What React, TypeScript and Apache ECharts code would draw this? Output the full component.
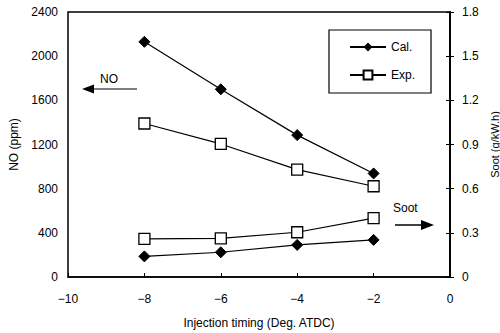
import React, { useEffect, useRef } from "react";
import * as echarts from "echarts";

const timings = [-8, -6, -4, -2];
const noCal = [2130, 1700, 1285, 938];
const noExp = [1390, 1205, 972, 822];
const sootCal = [0.14, 0.168, 0.218, 0.252];
const sootExp = [0.259, 0.262, 0.304, 0.4];

const FONT = "Liberation Sans";

export default function App() {
  const ref = useRef<HTMLDivElement>(null);
  useEffect(() => {
    if (!ref.current) return;
    const chart = echarts.init(ref.current, undefined, { renderer: "svg" });
    const pair = (vals: number[]) => timings.map((t, i) => [t, vals[i]]);
    const diamond = {
      symbol: "diamond",
      symbolSize: 11,
      itemStyle: { color: "#000", borderColor: "#000" },
    };
    const square = {
      symbol: "rect",
      symbolSize: 11,
      itemStyle: { color: "#fff", borderColor: "#000", borderWidth: 1.3 },
    };
    const lineStyle = { color: "#000", width: 1.2 };
    chart.setOption({
      animation: false,
      backgroundColor: "#fff",
      textStyle: { fontFamily: FONT, color: "#000" },
      grid: {
        left: 68,
        right: 50,
        top: 12,
        bottom: 56,
        outerBoundsMode: "none",
        containLabel: false,
        show: true,
        borderColor: "#000",
        borderWidth: 1.5,
        backgroundColor: "transparent",
      },
      legend: {
        data: ["Cal.", "Exp."],
        orient: "vertical",
        left: 329,
        top: 30,
        width: 104,
        backgroundColor: "#fff",
        borderColor: "#000",
        borderWidth: 1.2,
        padding: [11, 16, 12, 20],
        itemGap: 16,
        itemWidth: 36,
        itemHeight: 11,
        textStyle: { fontFamily: FONT, fontSize: 12, color: "#000" },
      },
      xAxis: {
        type: "value",
        min: -10,
        max: 0,
        interval: 2,
        name: "Injection timing (Deg. ATDC)",
        nameLocation: "middle",
        nameGap: 40,
        nameTextStyle: { fontFamily: FONT, fontSize: 12, color: "#000" },
        axisLine: { lineStyle: { color: "#000", width: 1.5 } },
        axisTick: { inside: true, length: 4, lineStyle: { color: "#000" } },
        axisLabel: {
          fontFamily: FONT,
          fontSize: 12,
          color: "#000",
          margin: 16,
          formatter: (v: number) => String(v).replace("-", "\u2212"),
        },
        splitLine: { show: false },
      },
      yAxis: [
        {
          type: "value",
          min: 0,
          max: 2400,
          interval: 400,
          name: "NO (ppm)",
          nameLocation: "middle",
          nameRotate: 90,
          nameGap: 46,
          nameTextStyle: { fontFamily: FONT, fontSize: 12, color: "#000" },
          axisLine: { show: true, lineStyle: { color: "#000", width: 1.5 } },
          axisTick: { show: true, inside: true, length: 4, lineStyle: { color: "#000" } },
          axisLabel: { fontFamily: FONT, fontSize: 12, color: "#000", margin: 10, formatter: (v: number) => String(v) },
          splitLine: { show: false },
        },
        {
          type: "value",
          min: 0,
          max: 1.8,
          interval: 0.3,
          position: "right",
          name: "Soot (g/kW.h)",
          nameLocation: "middle",
          nameRotate: 90,
          nameGap: 32,
          nameTextStyle: { fontFamily: FONT, fontSize: 11, color: "#000" },
          axisLine: { show: true, lineStyle: { color: "#000", width: 1.5 } },
          axisTick: { show: true, inside: true, length: 4, lineStyle: { color: "#000" } },
          axisLabel: { fontFamily: FONT, fontSize: 12, color: "#000", margin: 12 },
          splitLine: { show: false },
        },
      ],
      series: [
        { name: "Cal.", type: "line", yAxisIndex: 0, data: pair(noCal), lineStyle, ...diamond, z: 3 },
        { name: "Exp.", type: "line", yAxisIndex: 0, data: pair(noExp), lineStyle, ...square, z: 3 },
        { name: "Cal.", type: "line", yAxisIndex: 1, data: pair(sootCal), lineStyle, ...diamond, z: 3 },
        { name: "Exp.", type: "line", yAxisIndex: 1, data: pair(sootExp), lineStyle, ...square, z: 3 },
      ],
      graphic: [
        { type: "text", left: 100, top: 73, style: { text: "NO", fontFamily: FONT, fontSize: 12, fill: "#000" } },
        { type: "line", shape: { x1: 92, y1: 89, x2: 137, y2: 89 }, style: { stroke: "#000", lineWidth: 1.2 } },
        { type: "polygon", shape: { points: [[82, 89], [94, 84.5], [94, 93.5]] }, style: { fill: "#000" } },
        { type: "text", left: 393, top: 202, style: { text: "Soot", fontFamily: FONT, fontSize: 12, fill: "#000" } },
        { type: "line", shape: { x1: 395, y1: 225, x2: 424, y2: 225 }, style: { stroke: "#000", lineWidth: 1.5 } },
        { type: "polygon", shape: { points: [[434, 225], [421, 220], [421, 230]] }, style: { fill: "#000" } },
      ],
    });
    return () => chart.dispose();
  }, []);
  return <div ref={ref} style={{ position: "fixed", left: 0, top: 0, width: 500, height: 333 }} />;
}
